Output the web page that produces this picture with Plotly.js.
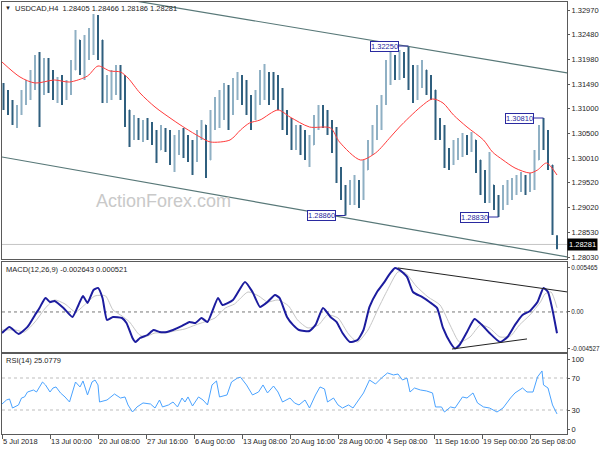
<!DOCTYPE html>
<html><head><meta charset="utf-8">
<script src="https://cdn.plot.ly/plotly-3.0.1.min.js"></script>
<style>html,body{margin:0;padding:0;background:#fff}#chart{width:600px;height:450px}</style>
</head><body><div id="chart"></div>
<script>
const symbol = 'USDCAD,H4';
const tickBars = [0,32,64,96,128,160,192,224,256,288,320,352];
const tickLabels = ['5 Jul 2018','13 Jul 00:00','20 Jul 08:00','27 Jul 16:00','6 Aug 00:00','13 Aug 08:00','20 Aug 16:00','28 Aug 00:00','4 Sep 08:00','11 Sep 16:00','19 Sep 00:00','26 Sep 08:00'];
const priceTicks = [1.3297,1.3248,1.3198,1.3149,1.3100,1.3050,1.3001,1.2952,1.2902,1.2853,1.2803];

// OHLC (one candle per 3 H4 bars)
const openP = [1.3141,1.3127,1.3101,1.3081,1.3093,1.3121,1.3141,1.3157,1.3193,1.3147,
1.3187,1.3157,1.3137,1.3147,1.3127,1.3141,1.3177,1.3237,1.3207,1.3217,
1.3247,1.3267,1.3237,1.3127,1.3147,1.3157,1.3167,1.3137,1.3097,1.3057,
1.3067,1.3057,1.3061,1.3057,1.3041,1.3017,1.3047,1.3037,1.3007,1.3027,
1.3037,1.3017,1.3007,1.2997,1.3047,1.3067,1.2997,1.3077,1.3107,1.3117,
1.3127,1.3097,1.3147,1.3157,1.3147,1.3117,1.3087,1.3117,1.3157,1.3167,
1.3157,1.3147,1.3127,1.3077,1.3067,1.3037,1.3047,1.3027,1.3017,1.3027,
1.3077,1.3093,1.3081,1.3067,1.3037,1.2967,1.2937,1.2917,1.2927,1.2937,
1.2927,1.2977,1.3017,1.3057,1.3087,1.3117,1.3177,1.3197,1.3187,1.3197,
1.3193,1.3167,1.3137,1.3167,1.3177,1.3157,1.3137,1.3057,1.3057,1.3007,
1.2997,1.3017,1.3017,1.3037,1.3027,1.3037,1.2997,1.2957,1.2937,1.2947,
1.2917,1.2907,1.2927,1.2937,1.2947,1.2947,1.2957,1.2953,1.2961,1.2997,
1.3057,1.3047,1.2987,1.28405];
const highP = [1.3151,1.3137,1.3117,1.3107,1.3137,1.3157,1.3177,1.3207,1.3213,1.3201,
1.3201,1.3177,1.3163,1.3167,1.3157,1.3197,1.3257,1.3237,1.3247,1.3261,
1.3289,1.3287,1.3237,1.3167,1.3177,1.3187,1.3187,1.3167,1.3097,1.3087,
1.3081,1.3077,1.3081,1.3073,1.3057,1.3067,1.3061,1.3057,1.3047,1.3057,
1.3061,1.3047,1.3037,1.3057,1.3077,1.3067,1.3097,1.3123,1.3137,1.3151,
1.3147,1.3161,1.3173,1.3167,1.3157,1.3127,1.3137,1.3177,1.3189,1.3173,
1.3173,1.3167,1.3141,1.3097,1.3081,1.3067,1.3067,1.3057,1.3047,1.3087,
1.3107,1.3107,1.3097,1.3077,1.3063,1.2983,1.2947,1.2957,1.2967,1.2957,
1.2997,1.3037,1.3067,1.3107,1.3127,1.3197,1.3213,1.3207,1.3217,1.3213,
1.3225,1.3187,1.3187,1.3197,1.3177,1.3167,1.3137,1.3081,1.3067,1.3021,
1.3037,1.3041,1.3051,1.3047,1.3053,1.3037,1.2997,1.2977,1.3013,1.2947,
1.2927,1.2947,1.2957,1.2961,1.2967,1.2973,1.2967,1.2971,1.3017,1.3067,
1.3081,1.3057,1.2987,1.28466];
const lowP = [1.3097,1.3087,1.3067,1.3061,1.3087,1.3107,1.3117,1.3137,1.3063,1.3127,
1.3131,1.3117,1.3111,1.3107,1.3117,1.3127,1.3177,1.3167,1.3157,1.3197,
1.3207,1.3197,1.3111,1.3111,1.3117,1.3127,1.3117,1.3063,1.3023,1.3037,
1.3037,1.3033,1.3037,1.3027,1.2991,1.3017,1.3013,1.2987,1.2973,1.3007,
1.3001,1.2993,1.2967,1.2993,1.3037,1.2961,1.2997,1.3057,1.3061,1.3077,
1.3057,1.3087,1.3117,1.3107,1.3087,1.3057,1.3077,1.3107,1.3117,1.3107,
1.3117,1.3097,1.3057,1.3047,1.3017,1.3017,1.3007,1.2997,1.2983,1.3027,
1.3057,1.3061,1.3047,1.3011,1.2951,1.2917,1.2886,1.2907,1.2907,1.2901,
1.2917,1.2977,1.3007,1.3037,1.3057,1.3107,1.3147,1.3157,1.3157,1.3161,
1.3137,1.3111,1.3117,1.3141,1.3127,1.3117,1.3037,1.3037,1.2981,1.2977,
1.2987,1.2997,1.3003,1.3007,1.3013,1.2971,1.2927,1.2911,1.2911,1.2897,
1.2883,1.2897,1.2907,1.2917,1.2927,1.2933,1.2927,1.2933,1.2937,1.2997,
1.3017,1.2977,1.2847,1.28186];
const closeP = [1.3127,1.3101,1.3081,1.3093,1.3121,1.3141,1.3157,1.3193,1.3147,1.3187,
1.3157,1.3137,1.3147,1.3127,1.3141,1.3177,1.3237,1.3207,1.3217,1.3247,
1.3267,1.3237,1.3127,1.3147,1.3157,1.3167,1.3137,1.3097,1.3057,1.3067,
1.3057,1.3061,1.3057,1.3041,1.3017,1.3047,1.3037,1.3007,1.3027,1.3037,
1.3017,1.3007,1.2997,1.3047,1.3067,1.2997,1.3077,1.3107,1.3117,1.3127,
1.3097,1.3147,1.3157,1.3147,1.3117,1.3087,1.3117,1.3157,1.3167,1.3157,
1.3147,1.3127,1.3077,1.3067,1.3037,1.3047,1.3027,1.3017,1.3027,1.3077,
1.3093,1.3081,1.3067,1.3037,1.2967,1.2937,1.2917,1.2927,1.2937,1.2927,
1.2977,1.3017,1.3057,1.3087,1.3117,1.3177,1.3197,1.3187,1.3197,1.3193,
1.3167,1.3137,1.3167,1.3177,1.3157,1.3137,1.3057,1.3057,1.3007,1.2997,
1.3017,1.3017,1.3037,1.3027,1.3037,1.2997,1.2957,1.2937,1.2947,1.2917,
1.2907,1.2927,1.2937,1.2947,1.2947,1.2957,1.2953,1.2961,1.2997,1.3057,
1.3047,1.2987,1.2877,1.28281];

// moving average (red)
const maBar = [0,12,22,35,45,57,64,72,79,84,92,102,114,122,132,139,152,159,165,172,184,192,205,219,225,239,249,259,265,279,287,294,301,310,321,327,334,342,352,357,363,370];
const maVal = [1.3193,1.3163,1.3151,1.3157,1.3153,1.3165,1.3185,1.3175,1.3173,1.3161,1.3131,1.3103,1.3077,1.3061,1.3043,1.3033,1.3037,1.3057,1.3071,1.3077,1.3097,1.3083,1.3063,1.3061,1.3033,1.2997,1.3011,1.3043,1.3063,1.3103,1.3119,1.3111,1.3087,1.3063,1.3037,1.3013,1.2997,1.2981,1.2971,1.2977,1.2991,1.2967];

// channel lines
const chanUpBar = [85,377], chanUpVal = [1.3317,1.3171];
const chanLoBar = [0,377], chanLoVal = [1.3003,1.2803];

// MACD
const macdBar = [0,5,11,17,22,25,29,32,35,41,47,51,54,57,61,64,67,70,74,80,83,87,89,92,97,101,105,110,114,120,125,129,133,137,144,147,154,162,167,172,177,182,185,190,194,198,205,209,214,219,223,227,232,237,241,245,250,254,259,262,265,270,274,280,285,290,294,299,302,305,310,315,320,325,332,337,342,347,352,357,361,364,367,370];
const macdVal = [-0.00261,-0.00186,-0.00273,-0.00186,-0.00037,0.00050,0.00174,0.00124,0.00137,0.00050,-0.00062,0.00087,0.00199,0.00112,0.00273,0.00298,0.00174,-0.00099,-0.00062,-0.00075,-0.00137,-0.00323,-0.00373,-0.00323,-0.00286,-0.00224,-0.00248,-0.00248,-0.00224,-0.00174,-0.00124,-0.00137,-0.00075,-0.00124,0.00174,0.00087,0.00149,0.00373,0.00248,0.00062,0.00124,0.00211,0.00174,-0.00062,-0.00161,-0.00224,-0.00236,-0.00161,0.00050,-0.00062,-0.00124,-0.00261,-0.00373,-0.00348,-0.00224,0.00062,0.00248,0.00348,0.00484,0.005465,0.00522,0.00435,0.00248,0.00186,0.00124,0.00050,-0.00199,-0.00385,-0.004527,-0.00410,-0.00248,-0.00087,-0.00161,-0.00261,-0.00373,-0.00311,-0.00161,-0.00037,0.00012,0.00124,0.00298,0.00248,0.00025,-0.002643];
const sigBar = [0,9,15,22,29,35,42,49,55,62,69,74,80,85,91,95,102,109,115,122,129,135,142,149,155,164,171,177,184,191,197,204,211,217,224,231,237,244,251,257,264,269,276,284,292,299,305,312,319,325,332,339,345,352,359,362,366,370];
const sigVal = [-0.00224,-0.00224,-0.00248,-0.00124,0.00050,0.00149,0.00099,0.00000,0.00087,0.00199,0.00199,0.00025,-0.00050,-0.00124,-0.00273,-0.00311,-0.00261,-0.00261,-0.00236,-0.00211,-0.00161,-0.00124,-0.00075,0.00050,0.00099,0.00248,0.00199,0.00124,0.00149,0.00075,-0.00099,-0.00199,-0.00161,-0.00037,-0.00075,-0.00273,-0.00373,-0.00224,0.00050,0.00273,0.00497,0.00484,0.00323,0.00186,0.00087,-0.00174,-0.00373,-0.00311,-0.00161,-0.00199,-0.00311,-0.00298,-0.00161,-0.00037,0.00124,0.00224,0.00248,0.000521];
const macdUpBar = [264,377], macdUpVal = [0.00546,0.00248];
const macdLoBar = [300,350], macdLoVal = [-0.00460,-0.00335];

// RSI(14)
const rsiBar = [0,3,5,7,11,13,15,17,21,23,27,29,32,34,36,39,42,45,49,52,54,57,60,62,64,65,70,75,79,82,84,87,90,94,99,102,105,107,111,114,117,120,122,124,127,131,134,137,140,143,145,150,153,157,159,163,167,171,174,177,181,184,187,190,192,195,198,202,205,209,212,215,217,221,224,227,231,234,237,241,245,249,253,257,261,264,267,270,272,275,279,283,287,289,293,295,299,302,307,310,314,317,321,325,330,334,339,342,347,350,354,357,360,361,364,367,370];
const rsiVal = [37.5,42.5,43.8,32.5,36.3,45,46.3,52.5,55,52.5,65,61.3,52.5,57.5,58.8,51.3,46.3,40,65,58.8,66.3,48.8,65,67.5,61.3,40,42.5,50,45,46.3,36.3,27.5,33.8,38.8,37.5,32.5,42.5,33.8,36.3,40,33.8,45,40,46.3,35,46.3,42.5,36.3,61.3,66.3,46.3,48.8,65,70,71,61.3,48.8,52.5,61.3,51.3,60,52.5,40,42.5,45,38.8,36.3,42.5,32.5,48.8,58.8,56.3,40,45,36.3,32.5,36.3,32.5,40,51.3,67.5,62.5,70,76.3,73.8,75,67.5,70,52.5,57.5,55,53.8,51.3,33.8,33.8,27.5,33.8,32.5,46.3,45,51.3,38.8,33.8,32.5,27.5,32.5,45,51.3,57.5,52.5,52.5,71.3,78.8,61.3,57.5,36.3,25.0779];
const rsiLevels = [70,30];

// ---------- drawing ----------
const W = 600, H = 450;
const py = p => 1 - p / H;
const FONT = 'Liberation Sans, Arial, sans-serif';
const LC = '#5a5a5a';
const candleBar = openP.map((_, i) => 1 + 3 * i);
const last = closeP.length - 1;
const lastClose = closeP[last];

const traces = [
  {type:'ohlc', x:candleBar, open:openP, high:highP, low:lowP, close:closeP, xaxis:'x', yaxis:'y',
   increasing:{line:{color:'#8fb0c4', width:2}},
   decreasing:{line:{color:'#2f5f7e', width:2}},
   tickwidth:0.1, hoverinfo:'skip'},
  {type:'scatter', mode:'lines', x:maBar, y:maVal, xaxis:'x', yaxis:'y', line:{color:'#ff3b3b', width:1, shape:'spline', smoothing:0.8}, hoverinfo:'skip'},
  {type:'scatter', mode:'lines', x:chanUpBar, y:chanUpVal, xaxis:'x', yaxis:'y', line:{color:'#587878', width:1.2}, hoverinfo:'skip'},
  {type:'scatter', mode:'lines', x:chanLoBar, y:chanLoVal, xaxis:'x', yaxis:'y', line:{color:'#587878', width:1.2}, hoverinfo:'skip'},
  {type:'scatter', mode:'lines', x:sigBar, y:sigVal, xaxis:'x2', yaxis:'y2', line:{color:'#c6c6c6', width:1, shape:'spline', smoothing:0.6}, hoverinfo:'skip'},
  {type:'scatter', mode:'lines', x:macdBar, y:macdVal, xaxis:'x2', yaxis:'y2', line:{color:'#1c1c9e', width:2, shape:'spline', smoothing:0.5}, hoverinfo:'skip'},
  {type:'scatter', mode:'lines', x:macdUpBar, y:macdUpVal, xaxis:'x2', yaxis:'y2', line:{color:'#222', width:1}, hoverinfo:'skip'},
  {type:'scatter', mode:'lines', x:macdLoBar, y:macdLoVal, xaxis:'x2', yaxis:'y2', line:{color:'#222', width:1}, hoverinfo:'skip'},
  {type:'scatter', mode:'lines', x:rsiBar, y:rsiVal, xaxis:'x3', yaxis:'y3', line:{color:'#4aa3ff', width:1}, hoverinfo:'skip'}
];

const xCommon = {range:[0,376.67], domain:[2/W, 567/W], showgrid:false, zeroline:false, showline:true, mirror:true, linecolor:LC, linewidth:1, fixedrange:true};
const yCommon = {side:'right', showgrid:false, zeroline:false, showline:true, mirror:true, linecolor:LC, linewidth:1, ticks:'outside', ticklen:2, tickcolor:LC, fixedrange:true, tickfont:{family:FONT, size:7.5, color:'#1e1e1e'}};

const macdMax = Math.max(...macdVal), macdMin = Math.min(...macdVal);

const swing = [
  {i:90, v:highP[90]}, {i:120, v:highP[120]}, {i:76, v:lowP[76]}, {i:110, v:lowP[110]}
];

const annotations = [
  {xref:'paper', yref:'paper', x:3/W, y:py(8), xanchor:'left', yanchor:'middle', text:'▼', showarrow:false, font:{family:FONT, size:6, color:'#222'}},
  {xref:'paper', yref:'paper', x:13/W, y:py(8), xanchor:'left', yanchor:'middle', showarrow:false,
   text: symbol + '  ' + [openP[last], highP[last], lowP[last], closeP[last]].map(v => v.toFixed(5)).join(' '),
   font:{family:FONT, size:7.5, color:'#1e1e1e'}},
  {xref:'paper', yref:'paper', x:4/W, y:py(269), xanchor:'left', yanchor:'middle', showarrow:false,
   text:'MACD(12,26,9) ' + macdVal[macdVal.length-1].toFixed(6) + ' ' + sigVal[sigVal.length-1].toFixed(6),
   font:{family:FONT, size:7.5, color:'#1e1e1e'}},
  {xref:'paper', yref:'paper', x:4/W, y:py(360), xanchor:'left', yanchor:'middle', showarrow:false,
   text:'RSI(14) ' + rsiVal[rsiVal.length-1].toFixed(4),
   font:{family:FONT, size:7.5, color:'#1e1e1e'}},
  {xref:'paper', yref:'paper', x:163/W, y:py(201), xanchor:'center', yanchor:'middle', showarrow:false,
   text:'ActionForex.com', font:{family:FONT, size:18, color:'#c9c9c9'}},
  {xref:'paper', yref:'y', x:567/W, y:lastClose, xanchor:'left', yanchor:'middle', showarrow:false,
   text:lastClose.toFixed(5), bgcolor:'#000', font:{family:FONT, size:7.5, color:'#fff'}, borderpad:1}
].concat(swing.map(s => ({
  xref:'x', yref:'y', x:candleBar[s.i], y:s.v, text:s.v.toFixed(5), showarrow:true, arrowhead:0, arrowwidth:1,
  arrowcolor:'#2a2aa0', ax:-24, ay:0, bordercolor:'#2a2aa0', borderwidth:1, borderpad:0, bgcolor:'#fff',
  font:{family:FONT, size:7.5, color:'#2a2aa0'}
})));

const shapes = [
  {type:'line', xref:'x domain', yref:'y', x0:0, x1:1, y0:lastClose, y1:lastClose, line:{color:'#c4c4c4', width:1}, layer:'below'},
  {type:'line', xref:'x2 domain', yref:'y2', x0:0, x1:1, y0:0, y1:0, line:{color:'#777', width:1, dash:'3px,3px'}, layer:'below'}
].concat(rsiLevels.map(v => ({type:'line', xref:'x3 domain', yref:'y3', x0:0, x1:1, y0:v, y1:v, line:{color:'#bdbdbd', width:1, dash:'3px,3px'}, layer:'below'})));

const layout = {
  width:W, height:H, margin:{l:0, r:0, t:0, b:0}, paper_bgcolor:'#fff', plot_bgcolor:'#fff', showlegend:false,
  font:{family:FONT, size:7.5, color:'#1e1e1e'},
  xaxis:Object.assign({}, xCommon, {anchor:'y', showticklabels:false, ticks:'', rangeslider:{visible:false}}),
  xaxis2:Object.assign({}, xCommon, {anchor:'y2', matches:'x', showticklabels:false, ticks:''}),
  xaxis3:Object.assign({}, xCommon, {anchor:'y3', matches:'x', tickmode:'array', tickvals:tickBars, ticktext:tickLabels, tickangle:0,
    ticks:'outside', ticklen:4, tickcolor:LC, ticklabelposition:'outside right', tickfont:{family:FONT, size:7.5, color:'#1e1e1e'}}),
  yaxis:Object.assign({}, yCommon, {anchor:'x', domain:[py(259), py(2)], range:[1.2799, 1.3313], tickmode:'array', tickvals:priceTicks, ticktext:priceTicks.map(v => v.toFixed(5))}),
  yaxis2:Object.assign({}, yCommon, {anchor:'x2', domain:[py(352), py(262)], range:[-0.00497, 0.0062], tickmode:'array',
    tickvals:[macdMax, 0, macdMin], ticktext:[macdMax.toFixed(6), '0.00', macdMin.toFixed(6)], tickfont:{family:FONT, size:6.3, color:'#1e1e1e'}}),
  yaxis3:Object.assign({}, yCommon, {anchor:'x3', domain:[py(434), py(354)], range:[0, 100], tickmode:'array',
    tickvals:[93.75, 70, 30, 6.25], ticktext:['100', '70', '30', '0']}),
  annotations:annotations, shapes:shapes
};

Plotly.newPlot('chart', traces, layout, {staticPlot:true, displayModeBar:false});
</script></body></html>
